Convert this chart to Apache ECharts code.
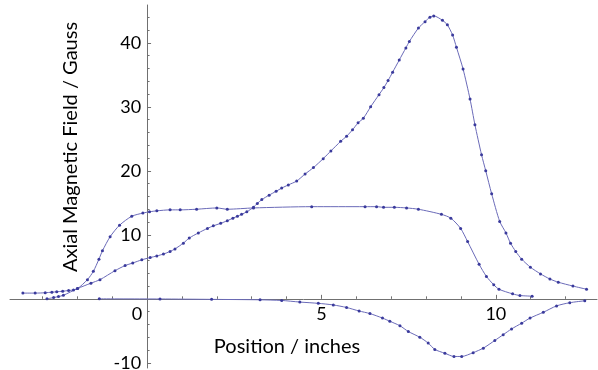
<!DOCTYPE html>
<html>
<head>
<meta charset="utf-8">
<script src="https://cdn.jsdelivr.net/npm/echarts@6.0.0/dist/echarts.min.js"></script>
<style>html,body{margin:0;padding:0;background:#fff}#c{width:598px;height:370px}</style>
</head>
<body>
<div id="c"></div>
<script>
// Series A: large peak near 8 inches
const xA = [-2.87,-2.68,-2.54,-2.40,-2.0,-1.61,-1.35,-0.92,-0.63,-0.41,-0.15,0.09,0.28,0.47,0.66,0.8,1.04,1.21,1.47,1.73,1.9,2.11,2.3,2.46,2.59,2.71,2.86,3.05,3.16,3.29,3.5,3.7,3.86,4.05,4.29,4.53,4.77,5.05,5.27,5.55,5.72,5.89,6.05,6.2,6.41,6.65,6.79,6.91,7.04,7.23,7.42,7.52,7.78,7.97,8.11,8.22,8.47,8.61,8.76,8.87,9.06,9.26,9.4,9.59,9.71,9.88,10.11,10.29,10.42,10.57,10.74,10.99,11.28,11.55,11.79,12.21,12.6];
const yA = [0.0,0.2,0.36,0.55,1.6,2.45,3.0,4.4,5.2,5.6,6.1,6.45,6.7,7.0,7.4,7.8,8.7,9.5,10.3,11.0,11.4,11.8,12.2,12.6,12.9,13.2,13.6,14.3,14.9,15.5,16.2,16.8,17.3,17.8,18.4,19.5,20.5,21.9,23.1,24.6,25.4,26.4,27.5,28.2,30.0,31.9,33.0,34.1,35.4,37.3,39.2,40.2,42.3,43.3,44.0,44.2,43.5,42.8,41.2,39.3,35.9,31.2,27.2,22.5,20.0,16.4,12.1,10.3,8.7,7.4,6.2,4.95,3.9,3.1,2.6,2.0,1.5];
// Series B: plateau
const xB = [-3.56,-3.21,-2.92,-2.73,-2.59,-2.42,-2.25,-2.11,-1.99,-1.71,-1.54,-1.38,-1.28,-1.06,-0.79,-0.44,-0.12,0.07,0.28,0.66,0.95,1.42,2.0,2.3,3.05,4.72,6.25,6.58,6.78,7.09,7.44,7.78,8.44,8.71,8.99,9.19,9.52,9.73,9.94,10.09,10.48,10.69,11.04];
const yB = [0.9,0.9,0.95,1.05,1.1,1.2,1.3,1.4,1.6,3.0,4.3,6.2,7.5,9.7,11.5,12.9,13.4,13.6,13.75,13.9,13.9,14.0,14.2,14.0,14.2,14.4,14.4,14.4,14.3,14.3,14.2,14.0,13.2,12.6,11.0,8.95,5.4,3.5,2.2,1.5,0.78,0.52,0.42];
// Series C: negative dip
const xC = [-1.37,0.37,1.85,3.24,3.86,4.38,4.91,5.34,5.72,6.08,6.39,6.75,6.96,7.25,7.49,7.82,8.06,8.25,8.54,8.8,9.02,9.35,9.64,9.97,10.21,10.45,10.74,10.98,11.36,11.74,12.12,12.55];
const yC = [0,-0.02,-0.08,-0.15,-0.25,-0.5,-0.7,-0.95,-1.35,-1.9,-2.3,-3.0,-3.5,-4.2,-5.1,-6.0,-6.9,-7.9,-8.5,-9.0,-9.0,-8.4,-7.7,-6.5,-5.6,-4.7,-3.8,-3.0,-2.1,-1.1,-0.6,-0.3];

const xMajor = [0,5,10];
const xMinor = [-3,-2,-1,1,2,3,4,6,7,8,9,11,12];
const yMajor = [-10,10,20,30,40];
const yMinor = [-8,-6,-4,-2,2,4,6,8,12,14,16,18,22,24,26,28,32,34,36,38,42,44];

const xTitle = 'Position / inches';
const yTitle = 'Axial Magnetic Field / Gauss';

const zip = (xs, ys) => xs.map((x, i) => [x, ys[i]]);
const FONT = 'Lato, "Open Sans", sans-serif';
const AX = '#707070';
const LINE = '#6a6ab8';
const DOT = '#3a3a9c';
const W = 598, H = 370;
const GRID = {left: 10, right: 1, top: 5, bottom: 2};

const chart = echarts.init(document.getElementById('c'), null, {renderer: 'canvas', width: W, height: H});
const axisCommonX = {
  type: 'value', min: -3.93, max: 12.9, position: 'bottom',
  splitLine: {show: false}
};
const axisCommonY = {
  type: 'value', min: -10.8, max: 45.9, position: 'left',
  splitLine: {show: false}
};
const seriesStyle = {
  type: 'line', symbol: 'circle', symbolSize: 3, smooth: 0.25,
  lineStyle: {color: LINE, width: 1},
  itemStyle: {color: DOT},
  emphasis: {disabled: true},
  xAxisIndex: 0, yAxisIndex: 0
};
chart.setOption({
  animation: false,
  grid: Object.assign({containLabel: false, outerBoundsMode: 'none'}, GRID),
  xAxis: [
    Object.assign({}, axisCommonX, {
      axisLine: {onZero: false, lineStyle: {color: AX, width: 1}},
      axisTick: {show: true, inside: true, length: 4, customValues: [5,10], lineStyle: {color: AX}},
      axisLabel: {
        show: true, customValues: xMajor, margin: 6, color: '#000', fontSize: 18, fontFamily: FONT,
        formatter: v => v === 0 ? '{z|0}' : String(v),
        rich: {z: {padding: [0, 20, 0, 0], fontSize: 18, fontFamily: FONT, color: '#000'}}
      }
    }),
    Object.assign({}, axisCommonX, {
      axisLine: {show: false, onZero: false},
      axisTick: {show: true, inside: true, length: 2.5, customValues: xMinor, lineStyle: {color: AX}},
      axisLabel: {show: false, customValues: xMinor}
    })
  ],
  yAxis: [
    Object.assign({}, axisCommonY, {
      axisLine: {onZero: false, lineStyle: {color: AX, width: 1}},
      axisTick: {show: true, inside: true, length: 4, customValues: yMajor, lineStyle: {color: AX}},
      axisLabel: {show: true, customValues: yMajor, margin: 6, color: '#000', fontSize: 18, fontFamily: FONT}
    }),
    Object.assign({}, axisCommonY, {
      axisLine: {show: false, onZero: false},
      axisTick: {show: true, inside: true, length: 2.5, customValues: yMinor, lineStyle: {color: AX}},
      axisLabel: {show: false, customValues: yMinor}
    })
  ],
  graphic: [
    {type: 'text', x: 287, y: 347, style: {text: xTitle, fontSize: 20, fontFamily: FONT, fill: '#000', textAlign: 'center', textVerticalAlign: 'middle'}},
    {type: 'text', x: 71, y: 147, rotation: Math.PI / 2, style: {text: yTitle, fontSize: 20, fontFamily: FONT, fill: '#000', textAlign: 'center', textVerticalAlign: 'middle'}}
  ],
  series: [
    Object.assign({}, seriesStyle, {name: 'A', data: zip(xA, yA)}),
    Object.assign({}, seriesStyle, {name: 'B', data: zip(xB, yB)}),
    Object.assign({}, seriesStyle, {name: 'C', data: zip(xC, yC)})
  ]
});

// Move axes so they cross at the origin (Mathematica-style), using the library's own scales.
const origin = chart.convertToPixel({xAxisIndex: 0, yAxisIndex: 0}, [0, 0]);
const yOff = -(origin[0] - GRID.left);
const xOff = -((H - GRID.bottom) - origin[1]);
chart.setOption({
  xAxis: [{offset: xOff}, {offset: xOff}],
  yAxis: [{offset: yOff}, {offset: yOff}]
});
</script>
</body>
</html>
